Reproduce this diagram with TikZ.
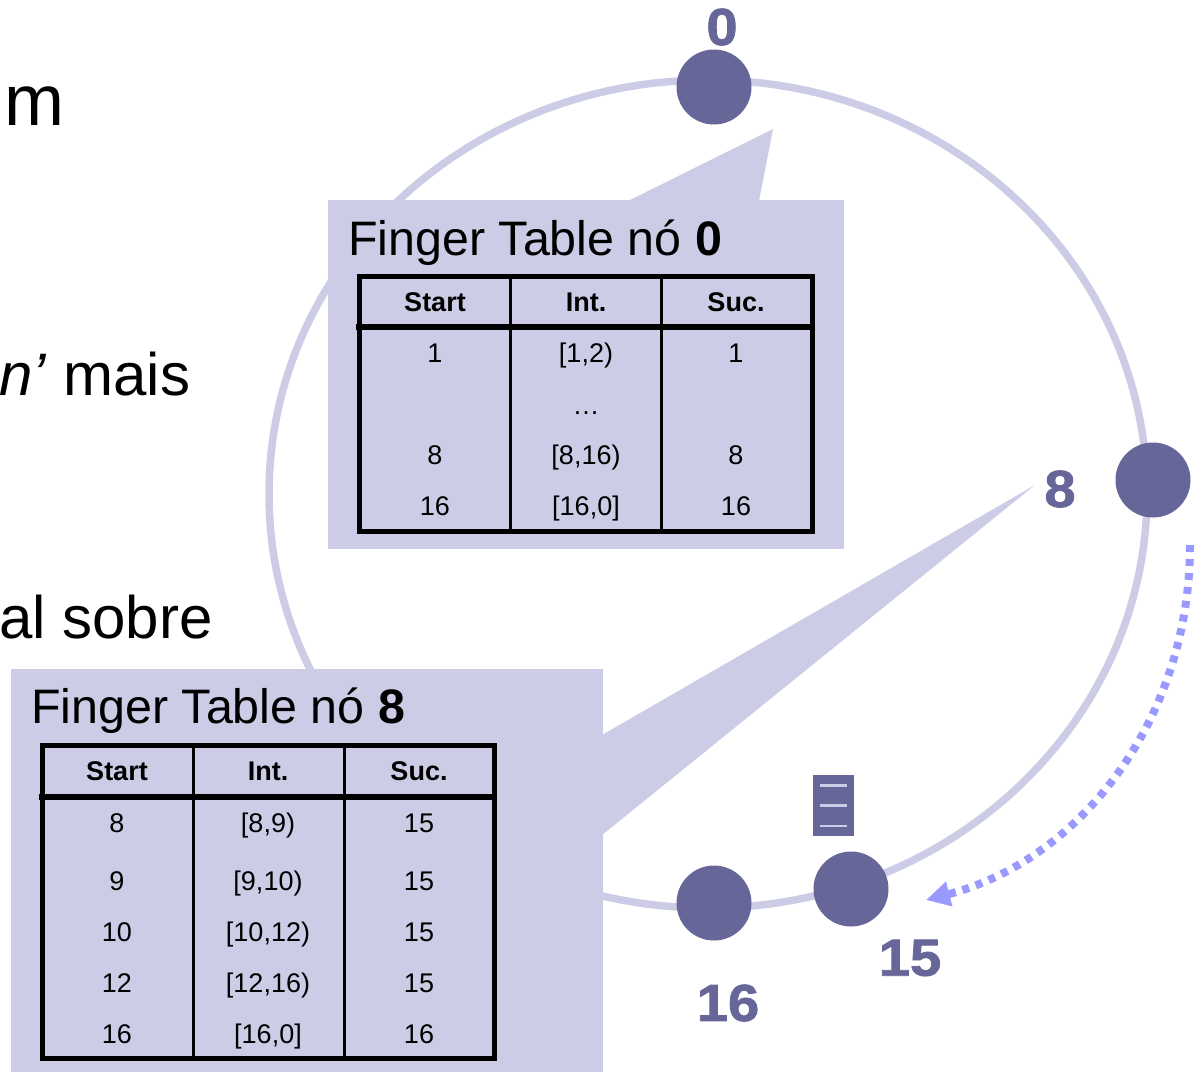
\documentclass[tikz,border=0pt]{standalone}
\usepackage{fontspec}
\setmainfont{Liberation Sans}
\newfontface\peerfont[FakeStretch=1.08,FakeBold=1.5]{Liberation Sans Bold}
\usetikzlibrary{arrows.meta, positioning, calc}
\definecolor{ringcolor}{RGB}{204, 204, 230}
\definecolor{peercolor}{RGB}{102, 102, 153}
\definecolor{routecolor}{RGB}{153, 153, 255}

\begin{document}
\begin{tikzpicture}[
    x=1pt, y=-1pt,
    peer/.style={circle, fill=peercolor, minimum size=75pt, inner sep=0pt},
    peerlabel/.style={font=\fontsize{52}{52}\peerfont, text=peercolor, inner sep=0pt},
    panel/.style={fill=ringcolor},
    heading/.style={font=\fontsize{48.4}{48}\selectfont, anchor=base west, inner sep=0pt},
    slide/.style={font=\fontsize{60}{60}\selectfont, anchor=base west, inner sep=0pt},
    headcell/.style={font=\fontsize{27}{27}\selectfont\bfseries, inner sep=0pt},
    cell/.style={font=\fontsize{27}{27}\selectfont, inner sep=0pt, anchor=base},
    frame/.style={line width=5pt, line cap=rect},
    rule/.style={line width=3pt}
]
\useasboundingbox (0, 0) rectangle (1200, 1072);

% Text left over from the slide
\node[slide, font=\fontsize{72}{72}\selectfont] (lineone) at (4, 125) {m};
\node[slide] (linetwo) at (-1, 395) {\textit{n’} mais};
\node[slide] (linethree) at (-1, 638) {al sobre};

% Ring
\draw[ringcolor, line width=7.5pt] (708, 494) ellipse [x radius=439, y radius=414];

% Peers
\node[peer] (peerzero) at (714, 87) {};
\node[peer] (peereight) at (1153, 480) {};
\node[peer] (peerfifteen) at (851, 889) {};
\node[peer] (peersixteen) at (714, 903) {};
\node[peerlabel] (labelzero) at (722, 27) {0};
\node[peerlabel] (labeleight) at (1060, 489) {8};
\node[peerlabel] (labelfifteen) at (910, 958) {15};
\node[peerlabel] (labelsixteen) at (728, 1003) {16};

% Stored item
\fill[peercolor] (813, 775) rectangle (854, 836);
\draw[ringcolor, line width=3pt] (820, 785) -- (847, 785);
\draw[ringcolor, line width=3pt] (820, 805) -- (847, 805);
\draw[ringcolor, line width=2pt] (820, 826) -- (847, 826);

% Route towards 15
\coordinate (routestart) at (1190, 545);
\coordinate (routeend) at (926, 900);
\draw[routecolor, line width=8pt, dash pattern=on 7pt off 7pt, -{Triangle[length=24pt, width=24pt]}]
    (routestart) .. controls (1190, 720) and (1080, 860) .. (routeend);

% Table of node 0
\fill[panel] (328, 200) rectangle (844, 549);
\fill[panel] (628, 201) -- (773, 129) -- (759, 201) -- cycle;
\node[heading] (titlezero) at (348, 255) {Finger Table nó \textbf{0}};
\draw[frame] (359, 276) rectangle (812, 531);
\draw[frame, line width=6pt] (359, 327) -- (812, 327);
\draw[rule] (510, 276) -- (510, 531);
\draw[rule] (661, 276) -- (661, 531);
\node[headcell] (startzero) at (435, 302) {Start};
\node[headcell] (intzero) at (586, 302) {Int.};
\node[headcell] (suczero) at (736, 302) {Suc.};
\foreach \y/\start/\range/\suc in {353/1/{[1,2)}/1, 405/{}/{…}/{}, 455/8/{[8,16)}/8, 506/16/{[16,0]}/16} {
    \node[cell] at (435, \y+9) {\start};
    \node[cell] at (586, \y+9) {\range};
    \node[cell] at (736, \y+9) {\suc};
}

% Table of node 8
\fill[panel] (11, 669) rectangle (603, 1072);
\fill[panel] (602, 735) -- (1035, 485) -- (602, 835) -- cycle;
\node[heading] (titleeight) at (31, 723) {Finger Table nó \textbf{8}};
\draw[frame] (42, 745) rectangle (494, 1058);
\draw[frame, line width=6pt] (42, 797) -- (494, 797);
\draw[rule] (193, 745) -- (193, 1058);
\draw[rule] (344, 745) -- (344, 1058);
\node[headcell] (starteight) at (117, 771) {Start};
\node[headcell] (inteight) at (268, 771) {Int.};
\node[headcell] (suceight) at (419, 771) {Suc.};
\foreach \y/\start/\range/\suc in {823/8/{[8,9)}/15, 881/9/{[9,10)}/15, 932/10/{[10,12)}/15, 983/12/{[12,16)}/15, 1034/16/{[16,0]}/16} {
    \node[cell] at (117, \y+9) {\start};
    \node[cell] at (268, \y+9) {\range};
    \node[cell] at (419, \y+9) {\suc};
}

\end{tikzpicture}
\end{document}
